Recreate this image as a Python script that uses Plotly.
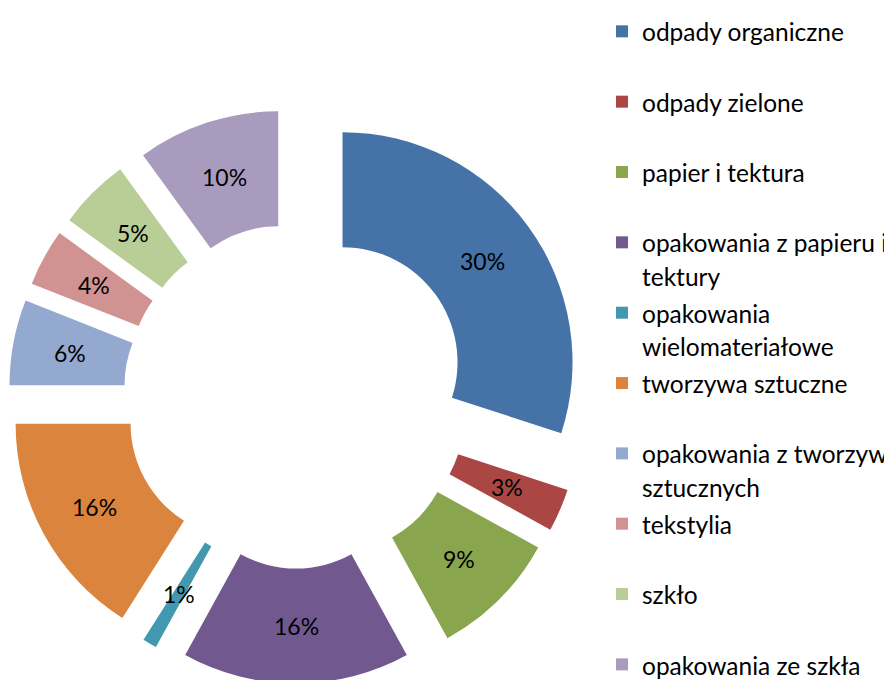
import math
import plotly.graph_objects as go

categories = [
    "odpady organiczne",
    "odpady zielone",
    "papier i tektura",
    "opakowania z papieru i<br>tektury",
    "opakowania<br>wielomateriałowe",
    "tworzywa sztuczne",
    "opakowania z tworzyw<br>sztucznych",
    "tekstylia",
    "szkło",
    "opakowania ze szkła",
]
values = [30, 3, 9, 16, 1, 16, 6, 4, 5, 10]
colors = ["#4572A7", "#AA4643", "#89A54E", "#71588F", "#4198AF",
          "#DB843D", "#93A9CF", "#D19392", "#B9CD96", "#A99BBD"]

FONT = "Lato"
W, H = 892, 680
CX, CY = 288, 388          # pie centre (px, from top-left)
PULL = 0.25
HOLE = 0.5
R_TOT = 287.5              # radius incl. pull
R = R_TOT / (1 + PULL)     # slice outer radius

LEG_SLOT_FONT = 25.9       # sets legend line pitch
LEG_TEXT_FONT = 24.5       # visible legend text size


def legend_label(c):
    lines = c.split("<br>")
    if len(lines) == 1:
        lines.append(" ")
    return "<br>".join(
        f'<span style="font-size:{LEG_TEXT_FONT}px">{ln}</span>' for ln in lines)


legend_labels = [legend_label(c) for c in categories]

fig = go.Figure()
fig.add_trace(go.Pie(
    labels=legend_labels,
    values=values,
    sort=False,
    direction="clockwise",
    rotation=0,
    hole=HOLE,
    pull=[PULL] * len(values),
    marker=dict(colors=colors, line=dict(width=0)),
    textinfo="none",
    hoverinfo="label+percent",
    domain=dict(x=[(CX - R_TOT) / W, (CX + R_TOT) / W],
                y=[(H - CY - R_TOT) / H, (H - CY + R_TOT) / H]),
))

# data labels: percentage at the middle of each (exploded) ring segment
total = sum(values)
cum = 0.0
annotations = []
for v in values:
    mid = 2 * math.pi * (cum + v / 2) / total
    cum += v
    dist = PULL * R + (1 + HOLE) / 2 * R
    annotations.append(dict(
        x=CX + dist * math.sin(mid), y=CY - dist * math.cos(mid),
        xref="x", yref="y",
        text=f"{round(100 * v / total)}%",
        showarrow=False, xanchor="center", yanchor="middle",
        font=dict(family=FONT, size=23, color="black"),
    ))

# invisible trace to establish the cartesian axes used by the labels
fig.add_trace(go.Scatter(x=[0, W], y=[0, H], mode="markers",
                         marker=dict(opacity=0), showlegend=False,
                         hoverinfo="skip"))

fig.update_layout(
    width=W, height=H,
    margin=dict(l=0, r=0, t=0, b=0, autoexpand=False),
    paper_bgcolor="white",
    plot_bgcolor="rgba(0,0,0,0)",
    font=dict(family=FONT, size=24, color="black"),
    xaxis=dict(range=[0, W], visible=False, fixedrange=True),
    yaxis=dict(range=[H, 0], visible=False, fixedrange=True),
    annotations=annotations,
    showlegend=True,
    legend=dict(
        x=594 / W, xanchor="left",
        y=1.0, yanchor="top",
        valign="top",
        font=dict(family=FONT, size=LEG_SLOT_FONT, color="black"),
        bgcolor="rgba(0,0,0,0)",
        traceorder="normal",
    ),
)

fig.write_html("out.html")
